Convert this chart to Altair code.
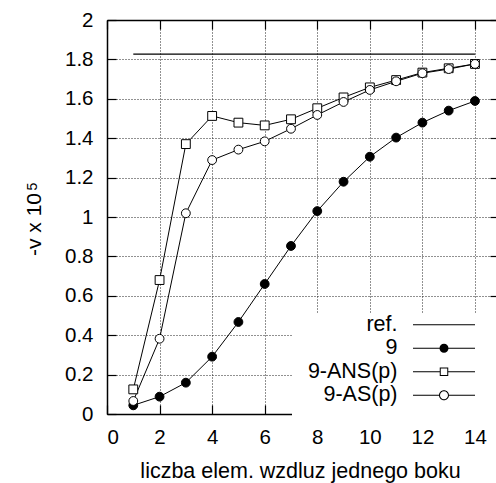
import altair as alt
import pandas as pd

# ---- data ----
x_vals = list(range(1, 15))
s9 = [0.044, 0.088, 0.159, 0.291, 0.467, 0.660, 0.853, 1.030, 1.179, 1.306, 1.403, 1.479, 1.540, 1.589]
s_ans = [0.125, 0.680, 1.370, 1.513, 1.479, 1.465, 1.496, 1.552, 1.607, 1.658, 1.695, 1.733, 1.755, 1.777]
s_as = [0.066, 0.382, 1.019, 1.289, 1.342, 1.384, 1.448, 1.518, 1.584, 1.645, 1.689, 1.730, 1.751, 1.777]
ref_x = [1, 14]
ref_y = [1.827, 1.827]
series_names = ["ref.", "9", "9-ANS(p)", "9-AS(p)"]
x_ticks = [0, 2, 4, 6, 8, 10, 12, 14]
y_ticks = [0, 0.2, 0.4, 0.6, 0.8, 1, 1.2, 1.4, 1.6, 1.8, 2]

rows = []
for name, ys in [("9", s9), ("9-ANS(p)", s_ans), ("9-AS(p)", s_as)]:
    for xv, yv in zip(x_vals, ys):
        rows.append({"x": xv, "y": yv, "series": name})
curves = pd.DataFrame(rows)
ref = pd.DataFrame({"x": ref_x, "y": ref_y, "series": ["ref.", "ref."]})
alldata = pd.concat([ref, curves], ignore_index=True)

W, H = 389, 394
FONT = "Liberation Sans"

xscale = alt.Scale(domain=[0, 14.8], nice=False, zero=False)
yscale = alt.Scale(domain=[0, 2], nice=False, zero=False)
color_scale = alt.Scale(domain=series_names, range=["black"] * 4)

# legend symbols (filled outlines): line sample with marker, drawn right of the label.
# zero-length moves only widen the legend box as gnuplot's key box does.
LINE = "M22.05,-0.1H34.45V0.1H22.05Z"
P_ref = LINE + "M45,0L45,0"
P_fill = LINE + "M29.15,0A0.9,0.9,0,1,1,27.35,0A0.9,0.9,0,1,1,29.15,0Z"
P_sq = ("M22.05,-0.1H27.4V0.1H22.05Z M29.1,-0.1H34.45V0.1H29.1Z"
        "M27.4,-0.85H29.1V0.85H27.4Z M27.6,-0.65V0.65H28.9V-0.65Z")
P_circ = ("M22.05,-0.1H27.25V0.1H22.05Z M29.25,-0.1H34.45V0.1H29.25Z"
          "M29.25,0A1,1,0,1,1,27.25,0A1,1,0,1,1,29.25,0Z"
          "M29.05,0A0.8,0.8,0,1,0,27.45,0A0.8,0.8,0,1,0,29.05,0Z"
          "M28,4.4L28,4.4")

legend = alt.Legend(
    orient="none", legendX=185, legendY=294, title=None, direction="vertical",
    symbolSize=100, labelAlign="right", labelOffset=84, symbolOffset=0,
    labelFont=FONT, labelFontSize=21.5, labelColor="black", labelBaseline="middle",
    fillColor="white", padding=0, rowPadding=0.5, symbolStrokeWidth=0,
    symbolOpacity=1,
)

# main labelled axes (bottom/left) with dotted grid
x_main = alt.Axis(orient="bottom", values=x_ticks, format="~g", ticks=False, tickSize=0,
                  grid=True, gridDash=[1, 2], gridColor="#222", gridWidth=1,
                  domain=True, domainColor="black", domainWidth=1.5,
                  labelFont=FONT, labelFontSize=20.5, labelColor="black",
                  labelBaseline="alphabetic", labelPadding=29,
                  title="liczba elem. wzdluz jednego boku", titleFont=FONT,
                  titleFontSize=21.5, titleFontWeight="normal", titleColor="black",
                  titleX=193, titleY=63, titleBaseline="alphabetic", titleAlign="center")
y_main = alt.Axis(orient="left", values=y_ticks, format="~g", ticks=False, tickSize=0,
                  grid=True, gridDash=[1, 2], gridColor="#222", gridWidth=1,
                  domain=True, domainColor="black", domainWidth=1.5,
                  labelFont=FONT, labelFontSize=20.5, labelColor="black", labelPadding=14,
                  title="-v x 10", titleFont=FONT, titleFontSize=21,
                  titleFontWeight="normal", titleColor="black",
                  titleX=-67, titleY=204, titleAngle=270, titleBaseline="alphabetic",
                  titleAlign="center")

def tick_axis(orient, offset, size, values, domain=False, **kw):
    return alt.Axis(orient=orient, offset=offset, values=values, labels=False, grid=False,
                    ticks=True, tickSize=size, tickColor="black", tickWidth=1.2,
                    domain=domain, domainColor="black", domainWidth=1.5, **kw)

no_axis_x = alt.X("x:Q", scale=xscale, axis=None)
no_axis_y = alt.Y("y:Q", scale=yscale, axis=None)

lines = alt.Chart(curves).mark_line(strokeWidth=1).encode(
    x=alt.X("x:Q", scale=xscale, axis=x_main),
    y=alt.Y("y:Q", scale=yscale, axis=y_main),
    color=alt.Color("series:N", scale=color_scale, legend=None),
)

# superscript of the y title ("10^5") carried by the inward-tick axis
y_sup_axis = tick_axis("right", -W, 9, y_ticks, title="5", titleFont=FONT, titleFontSize=14,
                       titleFontWeight="normal", titleColor="black", titleX=-71,
                       titleY=166, titleAngle=270, titleBaseline="alphabetic",
                       titleAlign="center")

points = alt.Chart(curves).mark_point(filled=True, stroke="black", strokeWidth=1,
                                       opacity=1, size=78).encode(
    x=alt.X("x:Q", scale=xscale, axis=tick_axis("top", -H, 9, x_ticks, title=None)),
    y=alt.Y("y:Q", scale=yscale, axis=y_sup_axis),
    shape=alt.Shape("series:N", scale=alt.Scale(domain=["9", "9-ANS(p)", "9-AS(p)"],
                                                range=["circle", "square", "circle"]), legend=None),
    fill=alt.Fill("series:N", scale=alt.Scale(domain=["9", "9-ANS(p)", "9-AS(p)"],
                                              range=["black", "white", "white"]), legend=None),
)

ref_line = alt.Chart(ref).mark_line(strokeWidth=1.2).encode(
    x=alt.X("x:Q", scale=xscale, axis=tick_axis("bottom", -H, 9, x_ticks, domain=True, title=None)),
    y=alt.Y("y:Q", scale=yscale, axis=tick_axis("left", -W, 6, y_ticks, title=None)),
    color=alt.Color("series:N", scale=color_scale, legend=None),
)

# invisible layer that only carries the legend (line sample + marker symbols)
legend_layer = alt.Chart(alldata).mark_point(filled=True, opacity=0, size=100).encode(
    x=no_axis_x,
    y=no_axis_y,
    shape=alt.Shape("series:N", scale=alt.Scale(domain=series_names,
                                                range=[P_ref, P_fill, P_sq, P_circ]),
                    legend=legend),
    fill=alt.Fill("series:N", scale=alt.Scale(domain=series_names, range=["black"] * 4),
                  legend=legend),
)

chart = alt.layer(lines, points, ref_line, legend_layer).resolve_axis(
    x="independent", y="independent"
).resolve_scale(
    shape="independent", fill="independent"
).properties(
    width=W, height=H,
    autosize=alt.AutoSizeParams(type="none"),
    padding={"left": 107, "top": 20, "right": 0, "bottom": 69},
    background="white",
).configure_view(stroke=None)

chart.save("out.html", embed_options={"renderer": "svg", "actions": False})
